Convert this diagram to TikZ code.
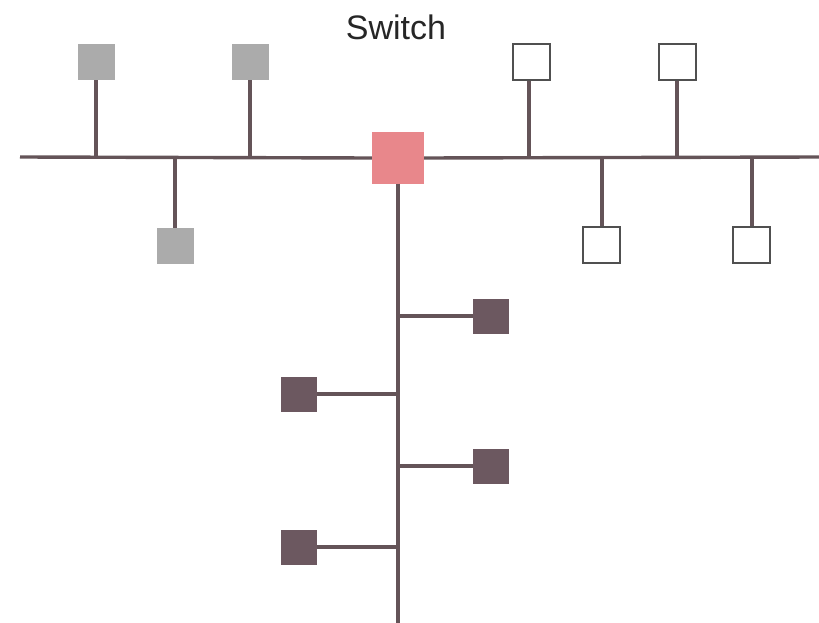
\documentclass[tikz,border=0pt]{standalone}
\usepackage{fontspec}
\setmainfont{Liberation Sans}
\definecolor{linec}{HTML}{645458}
\definecolor{grayb}{HTML}{ABABAB}
\definecolor{darkb}{HTML}{6C5860}
\definecolor{switchc}{HTML}{E8878B}
\definecolor{outl}{HTML}{505050}
\tikzset{
  bus/.style={draw=linec, line width=3.4pt},
  graybox/.style={draw=none, fill=grayb, minimum width=37pt, minimum height=36pt, inner sep=0pt},
  whitebox/.style={draw=outl, fill=white, line width=2pt, minimum width=37pt, minimum height=36pt, inner sep=0pt},
  darkbox/.style={draw=none, fill=darkb, minimum width=36pt, minimum height=35pt, inner sep=0pt},
  switchbox/.style={draw=none, fill=switchc, minimum width=52pt, minimum height=51pt, inner sep=0pt}
}
\begin{document}
\begin{tikzpicture}[x=1pt,y=-1pt]
\useasboundingbox (0,0) rectangle (819,623);
% bus ends
\coordinate (busL) at (20,157);
\coordinate (busR) at (819,157);
\coordinate (trunkB) at (398,623);
% switch
\node[switchbox] (sw) at (398,158) {};
\node[font=\fontsize{34}{40}\selectfont, text=black!85, anchor=base] (lbl) at (396,40) {Switch};
% junction coordinates on bus
\coordinate (j1) at (96,157);
\coordinate (j2) at (250,157);
\coordinate (j3) at (175,157);
\coordinate (j4) at (529,157);
\coordinate (j5) at (677,157);
\coordinate (j6) at (602,157);
\coordinate (j7) at (752,157);
% trunk junctions
\coordinate (t1) at (398,316);
\coordinate (t2) at (398,394);
\coordinate (t3) at (398,466);
\coordinate (t4) at (398,547);
% lines
\draw[bus] (busL) -- (sw.west);
\draw[bus] (sw.east) -- (busR);
\draw[bus] (sw.south) -- (trunkB);
% gray boxes
\node[graybox] (g1) at (96,62) {};
\node[graybox] (g2) at (250,62) {};
\node[graybox] (g3) at (175,246) {};
\draw[bus] (g1.south) -- (j1);
\draw[bus] (g2.south) -- (j2);
\draw[bus] (j3) -- (g3.north);
% white boxes
\node[whitebox] (w1) at (531,62) {};
\node[whitebox] (w2) at (677,62) {};
\node[whitebox] (w3) at (601,245) {};
\node[whitebox] (w4) at (751,245) {};
\draw[bus] (w1.south -| j4) -- (j4);
\draw[bus] (w2.south) -- (j5);
\draw[bus] (j6) -- (j6 |- w3.north);
\draw[bus] (j7) -- (j7 |- w4.north);
% dark boxes
\node[darkbox] (d1) at (491,316) {};
\node[darkbox] (d2) at (299,394) {};
\node[darkbox] (d3) at (491,466) {};
\node[darkbox] (d4) at (299,547) {};
\draw[bus] (t1) -- (d1.west);
\draw[bus] (d2.east) -- (t2);
\draw[bus] (t3) -- (d3.west);
\draw[bus] (d4.east) -- (t4);
\end{tikzpicture}
\end{document}
